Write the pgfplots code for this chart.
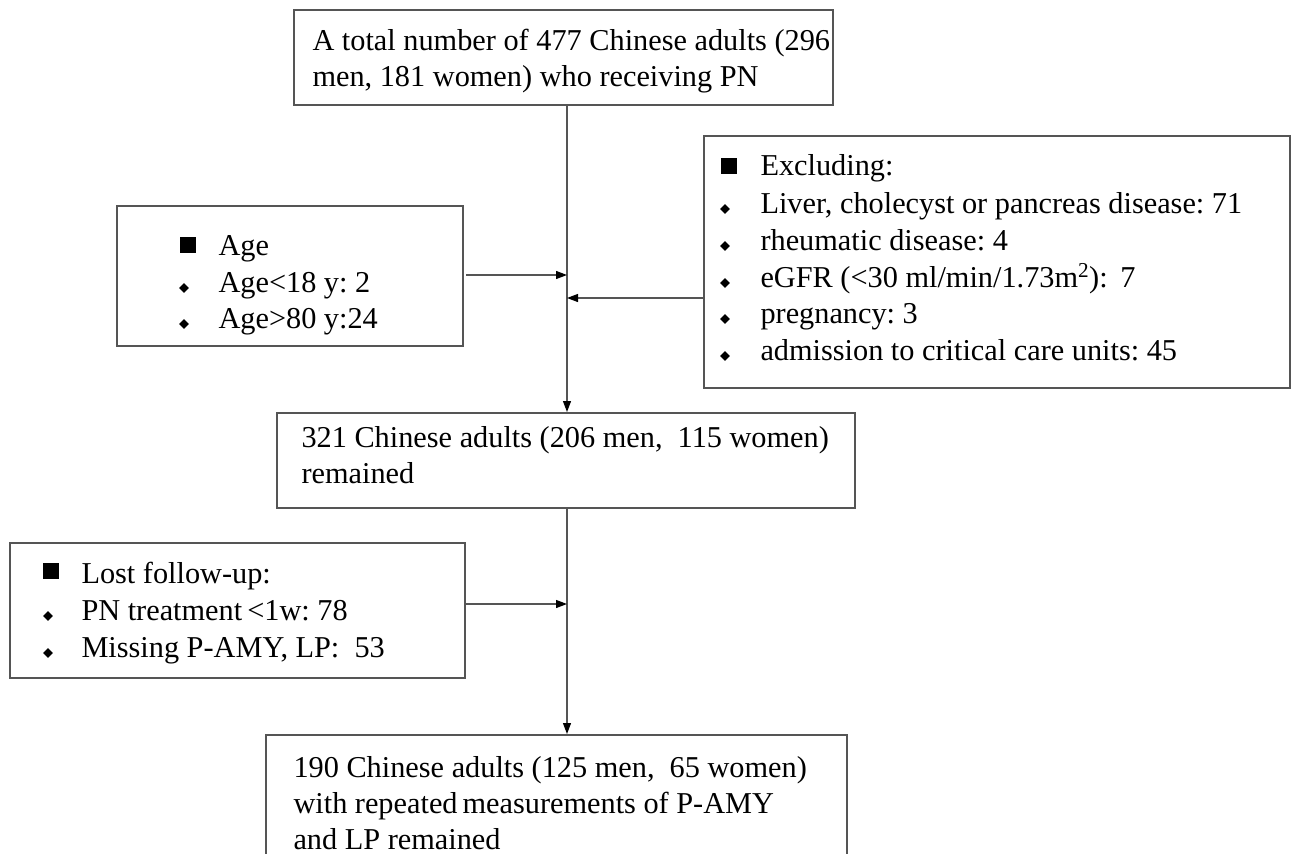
\documentclass[border=0pt]{standalone}
\usepackage{pgfplots}
\pgfplotsset{compat=1.18}
\usepackage{fontspec}
\setmainfont{Liberation Serif}
\usetikzlibrary{arrows.meta,shapes.geometric}
\definecolor{edge}{HTML}{555555}
\definecolor{ink}{HTML}{2E2E2E}
\frenchspacing
\begin{document}
\begin{tikzpicture}
\begin{axis}[
    hide axis, scale only axis,
    width=1291pt, height=854pt,
    xmin=0, xmax=1291, ymin=0, ymax=854, y dir=reverse,
    clip=false,
    every node/.append style={inner sep=0pt, text=ink},
  ]
  \tikzset{
    box/.style={draw=edge, line width=1.3pt},
    arr/.style={draw=edge, line width=1.2pt, -{Triangle[length=11pt,width=8pt,fill=black,color=black]}},
    txt/.style={anchor=base west, font=\fontsize{30.3}{36}\selectfont},
    sq/.style={fill=black, minimum size=16pt, inner sep=0pt},
    dm/.style={diamond, fill=black, minimum size=10pt, inner sep=0pt},
  }

  % boxes
  \draw[box] (axis cs:294,10) rectangle (axis cs:833,105);
  \draw[box] (axis cs:117,206) rectangle (axis cs:463,346);
  \draw[box] (axis cs:704,136) rectangle (axis cs:1290,388);
  \draw[box] (axis cs:277,413) rectangle (axis cs:855,508);
  \draw[box] (axis cs:10,543) rectangle (axis cs:465,678);
  \draw[box] (axis cs:266,735) rectangle (axis cs:847,900);

  % connectors
  \draw[arr] (axis cs:567,105) -- (axis cs:567,412);
  \draw[arr] (axis cs:466,275) -- (axis cs:567,275);
  \draw[arr] (axis cs:704,298) -- (axis cs:567,298);
  \draw[arr] (axis cs:567,508) -- (axis cs:567,734);
  \draw[arr] (axis cs:466,604) -- (axis cs:567,604);

  % top box
  \node[txt] at (axis cs:309,50) {A total number of 477 Chinese adults (296};
  \node[txt] at (axis cs:309,86) {men, 181 women) who receiving PN};

  % age box
  \node[sq] at (axis cs:188,245) {};
  \node[txt] at (axis cs:215,255) {Age};
  \node[dm] at (axis cs:184,288) {};
  \node[txt] at (axis cs:215,292) {Age<18 y: 2};
  \node[dm] at (axis cs:184,324) {};
  \node[txt] at (axis cs:215,328) {Age>80 y:24};

  % exclusion box
  \node[sq] at (axis cs:729,166) {};
  \node[txt] at (axis cs:757,175) {Excluding:};
  \node[dm] at (axis cs:725,209) {};
  \node[txt] at (axis cs:757,213) {Liver, cholecyst or pancreas disease: 71};
  \node[dm] at (axis cs:725,246) {};
  \node[txt] at (axis cs:757,250) {rheumatic disease: 4};
  \node[dm] at (axis cs:725,283) {};
  \node[txt] at (axis cs:757,287) {eGFR (<30 ml/min/1.73m\textsuperscript{2}):\, 7};
  \node[dm] at (axis cs:725,319) {};
  \node[txt] at (axis cs:757,323) {pregnancy: 3};
  \node[dm] at (axis cs:725,356) {};
  \node[txt] at (axis cs:757,360) {admission to critical care units: 45};

  % middle box
  \node[txt] at (axis cs:298,447) {321 Chinese adults (206 men,\ \ 115 women)};
  \node[txt] at (axis cs:298,483) {remained};

  % lost follow-up box
  \node[sq] at (axis cs:51,571) {};
  \node[txt] at (axis cs:78,583) {Lost follow-up:};
  \node[dm] at (axis cs:48,616) {};
  \node[txt] at (axis cs:78,620) {PN treatment\,<1w: 78};
  \node[dm] at (axis cs:48,653) {};
  \node[txt] at (axis cs:78,657) {Missing P-AMY, LP:\ \ 53};

  % bottom box
  \node[txt] at (axis cs:290,777) {190 Chinese adults (125 men,\ \ 65 women)};
  \node[txt] at (axis cs:290,813) {with repeated\,measurements of P-AMY};
  \node[txt] at (axis cs:290,849) {and LP remained};
\end{axis}
\pgfresetboundingbox
\path (0,0) rectangle (1291pt,854pt);
\end{tikzpicture}
\end{document}
